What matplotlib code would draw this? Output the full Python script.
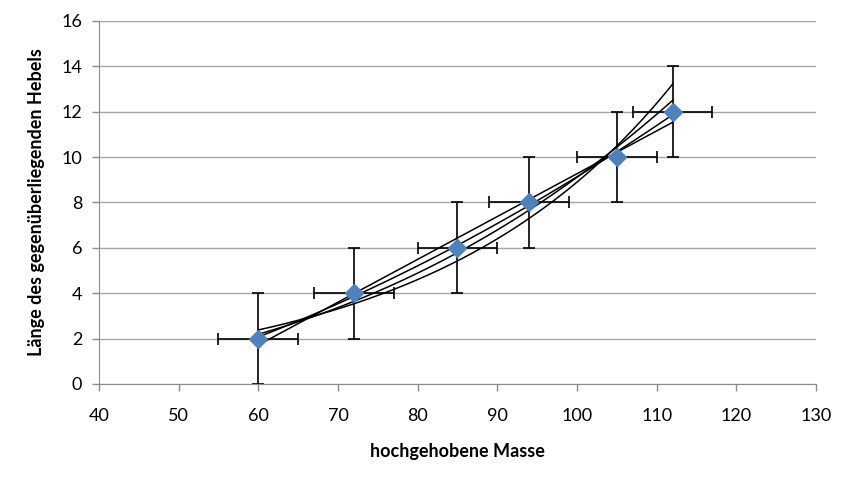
import numpy as np
import matplotlib.pyplot as plt

plt.rcParams['font.family'] = ['Lato', 'DejaVu Sans']

# measured data
masse = np.array([60, 72, 85, 94, 105, 112])
laenge = np.array([2, 4, 6, 8, 10, 12])
x_err = [5, 5, 5, 5, 5, 5]
y_err = [2, 2, 2, 2, 2, 2]

fig = plt.figure(figsize=(8.46, 4.86), dpi=100)
ax = fig.add_axes([0.117, 0.210, 0.8475, 0.747])

# trendlines like excel: linear, poly2, power, exponential
xs = np.linspace(masse.min(), masse.max(), 200)
lin = np.polyfit(masse, laenge, 1)
poly = np.polyfit(masse, laenge, 2)
pw = np.polyfit(np.log(masse), np.log(laenge), 1)
ex = np.polyfit(masse, np.log(laenge), 1)
ax.plot(xs, np.polyval(lin, xs), c='black', lw=1.1, zorder=3)
ax.plot(xs, np.polyval(poly, xs), c='black', lw=1.1, zorder=3)
ax.plot(xs, np.exp(np.polyval(pw, np.log(xs))), c='black', lw=1.1, zorder=3)
ax.plot(xs, np.exp(np.polyval(ex, xs)), c='black', lw=1.1, zorder=3)

ax.errorbar(masse, laenge, xerr=x_err, yerr=y_err, fmt='none', ecolor='black',
            elinewidth=1.2, capsize=4, capthick=1.2, zorder=2)
ax.plot(masse, laenge, 'D', c='#4f81bd', markersize=9, zorder=4)

#Labels and Axes
ax.set_xlim(40, 130)
ax.set_ylim(0, 16)
ax.set_xticks(np.arange(40, 131, 10))
ax.set_yticks(np.arange(0, 17, 2))
ax.tick_params(axis='both', colors='#8c8c8c', labelcolor='black', labelsize=13,
               length=5, width=1)
ax.tick_params(axis='x', pad=12)
ax.tick_params(axis='y', pad=7)
ax.grid(axis='y', c='#a6a6a6', lw=1)
ax.set_axisbelow(True)
ax.spines[['top', 'right']].set_visible(False)
ax.spines[['left', 'bottom']].set_color('#8c8c8c')
ax.set_xlabel('hochgehobene Masse', fontsize=13, fontweight='bold', labelpad=14)
ax.set_ylabel('Länge des gegenüberliegenden Hebels', fontsize=13, fontweight='bold', labelpad=12)

plt.savefig('out.png', dpi=100)
